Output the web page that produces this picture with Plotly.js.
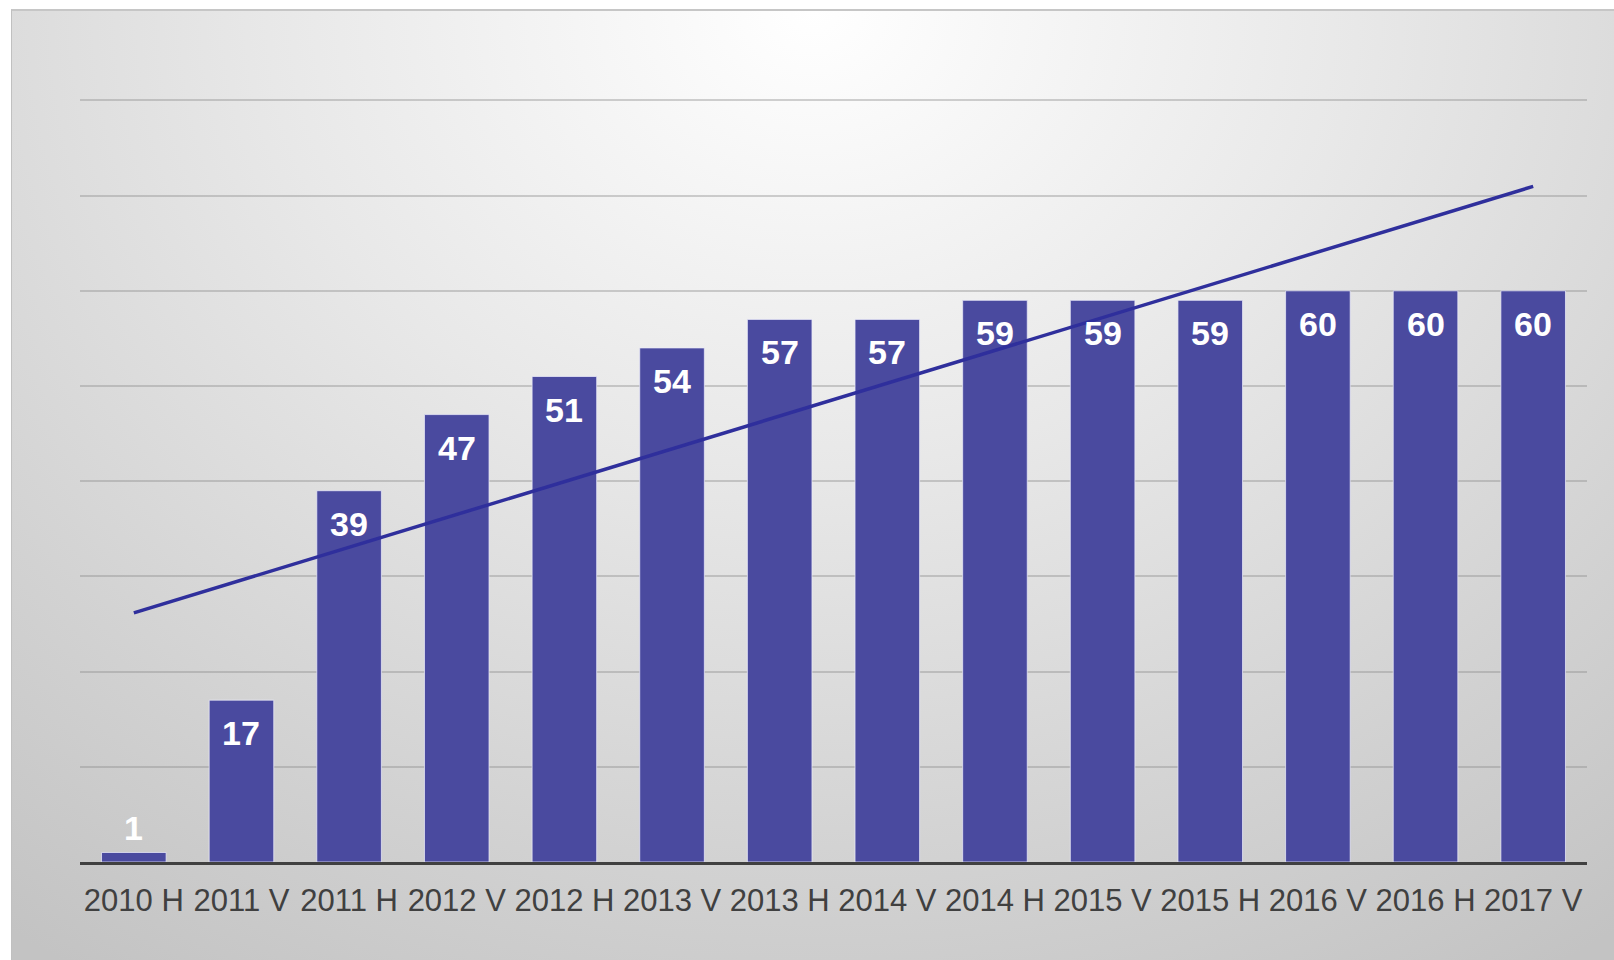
<!DOCTYPE html>
<html>
<head>
<meta charset="utf-8">
<script src="https://cdn.plot.ly/plotly-3.0.1.min.js"></script>
<style>
  html, body { margin: 0; padding: 0; background: #ffffff; }
  #wrap { position: relative; width: 1614px; height: 960px; overflow: hidden; }
  #bg {
    position: absolute; left: 11px; top: 9px; right: 0; bottom: 0;
    border-top: 2px solid #c6c6c6; border-left: 1px solid #c0c0c0;
    background: radial-gradient(ellipse 85% 120% at 50% 0%, #ffffff 0%, #e8e8e8 40%, #d2d2d2 75%, #c3c3c3 100%);
  }
  #chart { position: absolute; left: 0; top: 0; width: 1614px; height: 960px; }
</style>
</head>
<body>
<div id="wrap">
  <div id="bg"></div>
  <div id="chart"></div>
</div>
<script>
const categories = ["2010 H", "2011 V", "2011 H", "2012 V", "2012 H", "2013 V", "2013 H",
                    "2014 V", "2014 H", "2015 V", "2015 H", "2016 V", "2016 H", "2017 V"];
const values = [1, 17, 39, 47, 51, 54, 57, 57, 59, 59, 59, 60, 60, 60];

// Linear trend line (least squares over category index), as in the spreadsheet trendline
const n = values.length;
const idx = values.map((_, i) => i);
const mx = idx.reduce((a, b) => a + b, 0) / n;
const my = values.reduce((a, b) => a + b, 0) / n;
let sxy = 0, sxx = 0;
for (let i = 0; i < n; i++) { sxy += (i - mx) * (values[i] - my); sxx += (i - mx) * (i - mx); }
const slope = sxy / sxx;
const intercept = my - slope * mx;
const trendX = [categories[0], categories[n - 1]];
const trendY = [intercept, intercept + slope * (n - 1)];

const barTrace = {
  type: "bar",
  x: categories,
  y: values,
  marker: { color: "#4a4a9f", line: { color: "rgba(235,235,250,0.75)", width: 1 } },
  hoverinfo: "x+y"
};

const trendTrace = {
  type: "scatter",
  mode: "lines",
  x: trendX,
  y: trendY,
  line: { color: "#2f2f9c", width: 3.5 },
  hoverinfo: "skip"
};

const annotations = categories.map((c, i) => ({
  x: c,
  y: values[i],
  xref: "x",
  yref: "y",
  text: String(values[i]),
  showarrow: false,
  yanchor: "middle",
  yshift: values[i] < 5 ? 24 : -33,
  font: { family: "Liberation Sans, Arial, sans-serif", size: 34, color: "#ffffff", weight: "bold" }
}));

const layout = {
  width: 1614,
  height: 960,
  margin: { l: 80, r: 27, t: 99, b: 98 },
  paper_bgcolor: "rgba(0,0,0,0)",
  plot_bgcolor: "rgba(0,0,0,0)",
  showlegend: false,
  bargap: 0.4,
  font: { family: "Liberation Sans, Arial, sans-serif", color: "#404040" },
  xaxis: {
    type: "category",
    showline: true,
    linecolor: "#404040",
    linewidth: 3,
    showgrid: false,
    ticks: "",
    tickfont: { size: 31, color: "#404040" },
    ticklabelstandoff: 9,
    fixedrange: true
  },
  yaxis: {
    range: [0, 80.15],
    dtick: 10,
    showgrid: true,
    gridcolor: "rgba(140,140,140,0.4)",
    gridwidth: 2,
    zeroline: false,
    showticklabels: false,
    ticks: "",
    fixedrange: true
  },
  annotations: annotations
};

Plotly.newPlot("chart", [barTrace, trendTrace], layout, { displayModeBar: false, staticPlot: true });
</script>
</body>
</html>
